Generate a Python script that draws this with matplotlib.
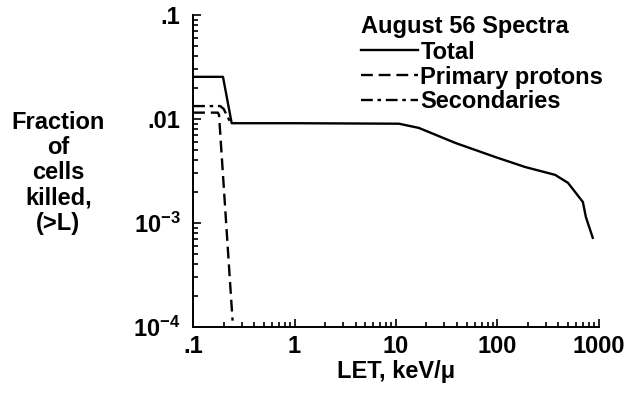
import matplotlib
matplotlib.use("Agg")
import matplotlib.pyplot as plt
import matplotlib.ticker as ticker
import numpy as np

plt.rcParams['font.family'] = ['Liberation Sans', 'DejaVu Sans']
plt.rcParams['font.weight'] = 'bold'
plt.rcParams['mathtext.fontset'] = 'custom'
plt.rcParams['mathtext.rm'] = 'Liberation Sans:bold'
plt.rcParams['mathtext.default'] = 'rm'

# values
total_let = [0.1, 0.197, 0.24, 1.0, 10.7, 16.8, 38.7, 95, 188, 371, 497, 697, 746, 872]
total_frac = [0.0254, 0.0254, 0.0091, 0.0091, 0.0090, 0.0082, 0.00587, 0.00431,
              0.00345, 0.0029, 0.00243, 0.00159, 0.00114, 0.00072]

primary_let = [0.1, 0.175, 0.18, 0.245]
primary_frac = [0.0115, 0.0115, 0.011, 0.000115]

second_let = [0.1, 0.185, 0.2, 0.23]
second_frac = [0.0133, 0.0133, 0.0125, 0.0095]

ytick_vals = [1e-4, 1e-3, 1e-2, 1e-1]
ytick_labels = ['10$^{-4}$', '10$^{-3}$', '.01', '.1']
xtick_vals = [0.1, 1, 10, 100, 1000]
xtick_labels = ['.1', '1', '10', '100', '1000']

fs = 17

fig = plt.figure(figsize=(6.27, 3.93), dpi=100)
ax = fig.add_axes([0.308, 0.168, 0.647, 0.794])

lw = 1.7
ax.plot(total_let, total_frac, color='black', lw=lw, ls='-', label='Total')
ax.plot(primary_let, primary_frac, color='black', lw=lw, ls=(0, (5, 2.5)),
        label='Primary protons')
ax.plot(second_let, second_frac, color='black', lw=lw, ls=(0, (5, 2, 1.5, 2)),
        label='Secondaries')

ax.set_xscale('log')
ax.set_yscale('log')
ax.set_xlim(0.1, 1000)
ax.set_ylim(1e-4, 0.1)

ax.set_xticks(xtick_vals)
ax.set_xticklabels(xtick_labels)
ax.set_yticks(ytick_vals)
ax.set_yticklabels(ytick_labels)
ax.xaxis.set_minor_locator(ticker.LogLocator(base=10, subs=np.arange(2, 10)))
ax.yaxis.set_minor_locator(ticker.LogLocator(base=10, subs=np.arange(2, 10)))
ax.xaxis.set_minor_formatter(ticker.NullFormatter())
ax.yaxis.set_minor_formatter(ticker.NullFormatter())

ax.tick_params(which='both', direction='in', width=1.2, labelsize=fs)
ax.tick_params(which='major', length=6)
ax.tick_params(which='minor', length=3.5)
ax.tick_params(axis='y', pad=9)
ax.tick_params(axis='x', pad=6)

for s in ['top', 'right']:
    ax.spines[s].set_visible(False)
for s in ['left', 'bottom']:
    ax.spines[s].set_linewidth(1.4)

ax.set_xlabel('LET, keV/\u03bc', fontsize=fs, fontweight='bold', labelpad=1)

fig.text(0.093, 0.56, 'Fraction\nof\ncells\nkilled,\n(>L)', ha='center', va='center',
         fontsize=fs, fontweight='bold', linespacing=1.13)

leg = ax.legend(loc='upper left', bbox_to_anchor=(0.415, 1.0), frameon=False,
                title='August 56 Spectra', fontsize=fs, handlelength=2.4,
                handletextpad=0.1, labelspacing=0.08, borderpad=0, borderaxespad=0)
leg.get_title().set_fontsize(fs)
leg.get_title().set_fontweight('bold')
leg._legend_box.align = 'left'
leg._legend_box.sep = 2

fig.savefig('out.png', dpi=100)
